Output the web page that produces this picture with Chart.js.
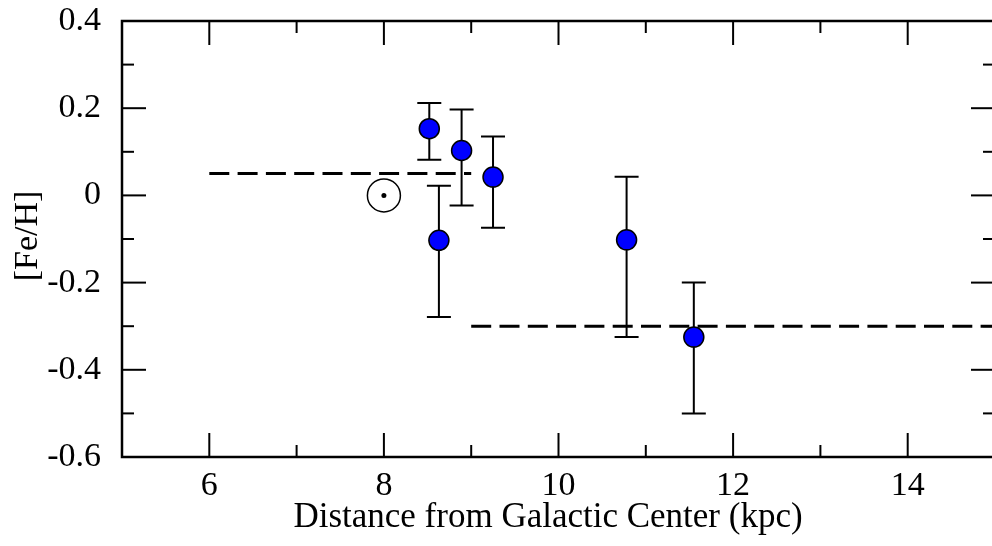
<!DOCTYPE html>
<html lang="en">
<head>
<meta charset="UTF-8">
<title>[Fe/H] vs Distance from Galactic Center</title>
<script src="https://cdn.jsdelivr.net/npm/chart.js"></script>
<style>
  html, body { margin: 0; padding: 0; background: #fff; overflow: hidden; }
  #wrap { width: 992px; height: 546px; overflow: hidden; }
</style>
</head>
<body>
<div id="wrap"><canvas id="metalChart" width="1000" height="546"></canvas></div>
<script>
// cluster measurements: distance (kpc), [Fe/H] and error bar ends
const distKpc = [8.52, 8.89, 9.25, 8.63, 10.78, 11.55];
const feH     = [0.153, 0.103, 0.042, -0.103, -0.102, -0.325];
const feHHigh = [0.212, 0.197, 0.135, 0.022, 0.043, -0.200];
const feHLow  = [0.082, -0.023, -0.074, -0.279, -0.325, -0.500];

// the Sun
const sunDist = [8];
const sunFeH  = [0];

// mean metallicity inside / outside 9 kpc
const innerX = [6, 9];
const innerY = [0.05, 0.05];
const outerX = [9, 15];
const outerY = [-0.3, -0.3];

// axis ticks
const xMajor = [6, 8, 10, 12, 14];
const xMinor = [7, 9, 11, 13];
const yMajor = [-0.6, -0.4, -0.2, 0, 0.2, 0.4];
const yMinor = [-0.5, -0.3, -0.1, 0.1, 0.3];

const FONT = "'Liberation Serif', 'Times New Roman', serif";
const zip = (xs, ys) => xs.map((x, i) => ({ x: x, y: ys[i] }));

// frame, inward ticks, error bars and axis titles
const framePlugin = {
  id: 'frame',
  beforeDatasetDraw(chart, args) {
    if (args.index !== 0) return;
    const ctx = chart.ctx, xs = chart.scales.x, ys = chart.scales.y;
    ctx.save();
    ctx.strokeStyle = '#000';
    ctx.lineWidth = 2;
    distKpc.forEach((d, i) => {
      const px = xs.getPixelForValue(d);
      const top = ys.getPixelForValue(feHHigh[i]);
      const bot = ys.getPixelForValue(feHLow[i]);
      ctx.beginPath();
      ctx.moveTo(px, top); ctx.lineTo(px, bot);
      ctx.moveTo(px - 12, top); ctx.lineTo(px + 12, top);
      ctx.moveTo(px - 12, bot); ctx.lineTo(px + 12, bot);
      ctx.stroke();
    });
    ctx.restore();
  },
  afterDraw(chart) {
    const ctx = chart.ctx, a = chart.chartArea;
    const xs = chart.scales.x, ys = chart.scales.y;
    ctx.save();
    ctx.strokeStyle = '#000';
    ctx.lineWidth = 2;
    const tick = (x1, y1, x2, y2) => { ctx.beginPath(); ctx.moveTo(x1, y1); ctx.lineTo(x2, y2); ctx.stroke(); };
    const xt = (vals, len) => vals.forEach(v => {
      const px = xs.getPixelForValue(v);
      tick(px, a.bottom, px, a.bottom - len);
      tick(px, a.top, px, a.top + len);
    });
    const yt = (vals, len) => vals.forEach(v => {
      const py = ys.getPixelForValue(v);
      tick(a.left, py, a.left + len, py);
      tick(a.right, py, a.right - len, py);
    });
    xt(xMajor, 24); xt(xMinor, 12);
    yt(yMajor, 24); yt(yMinor, 12);
    ctx.lineWidth = 2.5;
    ctx.strokeRect(a.left, a.top, a.right - a.left, a.bottom - a.top);

    ctx.fillStyle = '#000';
    ctx.font = '35px ' + FONT;
    ctx.textAlign = 'center';
    ctx.textBaseline = 'alphabetic';
    ctx.fillText('Distance from Galactic Center (kpc)', 548, 527);
    ctx.font = '34px ' + FONT;
    ctx.translate(37, 236);
    ctx.rotate(-Math.PI / 2);
    ctx.fillText('[Fe/H]', 0, 0);
    ctx.restore();
  }
};

new Chart(document.getElementById('metalChart'), {
  type: 'scatter',
  data: {
    datasets: [
      {
        data: zip(distKpc, feH),
        pointRadius: 10,
        pointHoverRadius: 10,
        backgroundColor: '#0000ff',
        borderColor: '#000',
        borderWidth: 1.5,
        order: 0
      },
      {
        data: zip(sunDist, sunFeH),
        pointRadius: 2.5,
        backgroundColor: '#000',
        borderWidth: 0,
        order: 0
      },
      {
        data: zip(sunDist, sunFeH),
        pointRadius: 16.5,
        backgroundColor: '#fff',
        borderColor: '#000',
        borderWidth: 1.5,
        order: 1
      },
      {
        type: 'line',
        data: zip(innerX, innerY),
        borderColor: '#000',
        borderWidth: 3,
        borderDash: [20, 8.3],
        pointRadius: 0,
        fill: false,
        order: 2
      },
      {
        type: 'line',
        data: zip(outerX, outerY),
        borderColor: '#000',
        borderWidth: 3,
        borderDash: [20, 8.3],
        pointRadius: 0,
        fill: false,
        order: 2
      }
    ]
  },
  options: {
    responsive: false,
    animation: false,
    layout: { autoPadding: false, padding: { left: 0, top: 21, right: 5, bottom: 0 } },
    plugins: { legend: { display: false }, tooltip: { enabled: false } },
    scales: {
      x: {
        type: 'linear',
        min: 5, max: 15,
        grid: { display: false },
        border: { display: false },
        afterBuildTicks: s => { s.ticks = xMajor.map(v => ({ value: v })); },
        afterFit: s => { s.height = 89; s.paddingLeft = 0; s.paddingRight = 0; },
        ticks: { color: '#000', font: { family: FONT, size: 34 }, padding: 1, maxRotation: 0 }
      },
      y: {
        type: 'linear',
        min: -0.6, max: 0.4,
        grid: { display: false },
        border: { display: false },
        afterBuildTicks: s => { s.ticks = yMajor.map(v => ({ value: v })); },
        afterFit: s => { s.width = 122; s.paddingTop = 0; s.paddingBottom = 0; },
        ticks: {
          color: '#000', font: { family: FONT, size: 34 }, padding: 13,
          callback: v => (Math.abs(v) < 1e-9 ? '0' : v.toFixed(1))
        }
      }
    }
  },
  plugins: [framePlugin]
});
</script>
</body>
</html>
